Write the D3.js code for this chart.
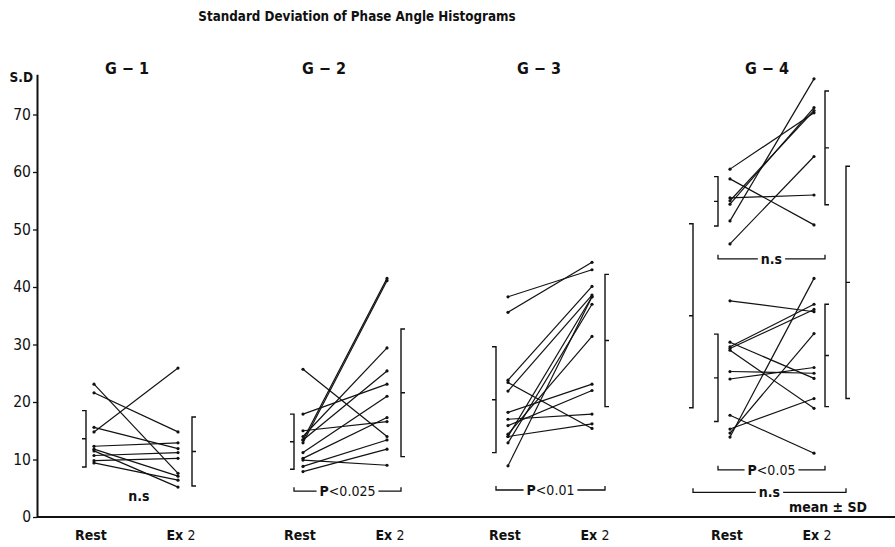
<!DOCTYPE html>
<html>
<head>
<meta charset="utf-8">
<script src="https://cdn.jsdelivr.net/npm/d3@7"></script>
<style>
  body { margin: 0; background: #fff; }
  text { font-family: "Liberation Sans Narrow", "DejaVu Sans Condensed", "Liberation Sans", sans-serif; fill: #111; }
</style>
</head>
<body>
<script>
// ---- data ----
const groupNames = ['G − 1', 'G − 2', 'G − 3', 'G − 4'];
const phases = ['Rest', 'Ex 2'];
const yTicks = [0, 10, 20, 30, 40, 50, 60, 70];

// individual subjects, rest value and exercise value (same index = same subject)
const g1Rest = [23.1, 21.6, 14.8, 15.6, 12.3, 11.8, 11.5, 10.7, 9.8, 9.4];
const g1Ex   = [7.6, 14.8, 25.9, 11.9, 12.9, 7.1, 5.2, 11.2, 10.2, 6.4];
const g2Rest = [25.7, 13.4, 12.9, 14.0, 17.9, 15.0, 11.2, 10.2, 9.9, 8.8, 7.9, 13.4];
const g2Ex   = [14.0, 41.5, 41.1, 29.4, 23.1, 16.6, 21.0, 17.3, 9.0, 13.4, 11.8, 25.4];
const g3Rest = [38.3, 35.6, 23.8, 21.9, 23.4, 18.2, 17.0, 15.9, 14.4, 14.0, 12.9, 8.9, 14.0];
const g3Ex   = [43.0, 44.3, 40.1, 38.6, 15.4, 23.1, 17.9, 22.0, 31.4, 38.3, 37.0, 38.3, 16.2];
const g4uRest = [60.5, 58.8, 55.5, 54.4, 55.0, 51.5, 47.5];
const g4uEx   = [70.3, 50.8, 56.0, 71.2, 70.7, 76.2, 62.7];
const g4lRest = [37.6, 30.4, 29.6, 29.3, 29.0, 25.3, 24.0, 17.7, 15.3, 14.6, 13.9];
const g4lEx   = [35.7, 24.1, 37.0, 36.1, 18.9, 25.0, 26.0, 11.1, 20.6, 31.9, 41.5];

const setGroup = [0, 1, 2, 3, 3];
const setRest = [g1Rest, g2Rest, g3Rest, g4uRest, g4lRest];
const setEx = [g1Ex, g2Ex, g3Ex, g4uEx, g4lEx];

// mean ± SD for each set
const restMean = [13.6, 13.1, 20.4, 54.9, 24.2];
const restSD   = [4.9, 4.8, 9.2, 4.3, 7.6];
const exMean   = [11.4, 21.6, 30.7, 64.2, 28.1];
const exSD     = [6.0, 11.1, 11.5, 9.9, 8.9];
// whole G-4
const g4AllMean = [35.0, 40.8];
const g4AllSD   = [16.0, 20.2];

// significance: set index (-1 = whole G-4), level in S.D units, label
const sigSet   = [0, 1, 2, 3, 4, -1];
const sigLevel = [3.6, 4.5, 4.7, 44.9, 8.2, 4.3];
const sigLabel = [['n.s', ''], ['P', '<0.025'], ['P', '<0.01'], ['n.s', ''], ['P', '<0.05'], ['n.s', '']];
const sigBracket = [false, true, true, true, true, true];

// ---- layout ----
const WIDTH = 895, HEIGHT = 547;
const AXIS_X = 37;
const restX = [94, 303, 508, 730];
const PAIR_W = 84;
const restBrOff = [-8, -9, -12, -12];
const exBrOff = [14, 14, 13, 11];
const titleX = [127, 324, 539, 767];

var svg = d3.select('body').append('svg')
    .attr('width', WIDTH)
    .attr('height', HEIGHT);

svg.append('rect').attr('width', WIDTH).attr('height', HEIGHT).attr('fill', '#fff');

var y = d3.scaleLinear().domain([0, 77]).range([517, 74.25]);

var xOf = function (gi) {
  return d3.scalePoint().domain(phases).range([restX[gi], restX[gi] + PAIR_W]);
};

// title
svg.append('text')
    .attr('x', 357).attr('y', 21)
    .attr('text-anchor', 'middle')
    .attr('font-size', 13.3).attr('font-weight', 'bold')
    .text('Standard Deviation of Phase Angle Histograms');

// y axis
var yAxis = d3.axisLeft(y).tickValues(yTicks).tickSize(4).tickSizeOuter(0).tickPadding(2);
var ax = svg.append('g')
    .attr('transform', 'translate(' + AXIS_X + ',0)')
    .call(yAxis);
ax.select('.domain').attr('stroke', '#111').attr('stroke-width', 2);
ax.selectAll('.tick line').attr('stroke', '#111').attr('stroke-width', 1.3);
ax.selectAll('.tick text')
    .attr('font-size', 15.5)
    .attr('font-family', '"Liberation Sans Narrow", "DejaVu Sans Condensed", sans-serif')
    .attr('fill', '#111');

svg.append('text')
    .attr('x', 33).attr('y', 82)
    .attr('text-anchor', 'end')
    .attr('font-size', 13.5).attr('font-weight', 'bold')
    .text('S.D');

// baseline
svg.append('line')
    .attr('x1', AXIS_X).attr('x2', WIDTH)
    .attr('y1', y(0)).attr('y2', y(0))
    .attr('stroke', '#111').attr('stroke-width', 2);

// group titles and phase labels
groupNames.forEach(function (name, gi) {
  svg.append('text')
      .attr('x', titleX[gi]).attr('y', 74)
      .attr('text-anchor', 'middle')
      .attr('font-size', 16).attr('font-weight', 'bold')
      .text(name);
  var x = xOf(gi);
  phases.forEach(function (p, pi) {
    var t = svg.append('text')
        .attr('x', x(p) + (pi === 0 ? -3 : 3)).attr('y', 540)
        .attr('text-anchor', 'middle')
        .attr('font-size', 14).attr('font-weight', 'bold');
    if (pi === 0) {
      t.text(p);
    } else {
      t.append('tspan').text('Ex ');
      t.append('tspan').attr('font-weight', 'normal').text('2');
    }
  });
});

// subject lines
var plot = svg.append('g');
setRest.forEach(function (rest, si) {
  var gi = setGroup[si];
  var x = xOf(gi);
  var pairs = rest.map(function (r, i) { return {rest: r, ex: setEx[si][i]}; });

  plot.selectAll('.pair' + si).data(pairs)
      .enter()
      .append('line')
      .attr('class', 'pair' + si)
      .attr('x1', x('Rest')).attr('x2', x('Ex 2'))
      .attr('y1', function (d) { return y(d.rest); })
      .attr('y2', function (d) { return y(d.ex); })
      .attr('stroke', '#111').attr('stroke-width', 1.2);

  var pts = [];
  pairs.forEach(function (d) {
    pts.push({x: x('Rest'), v: d.rest});
    pts.push({x: x('Ex 2'), v: d.ex});
  });
  plot.selectAll('.dot' + si).data(pts)
      .enter()
      .append('circle')
      .attr('class', 'dot' + si)
      .attr('cx', function (d) { return d.x; })
      .attr('cy', function (d) { return y(d.v); })
      .attr('r', 1.6)
      .attr('fill', '#111');
});

// mean ± SD brackets
var bracket = function (bx, mean, sd, dir) {
  var tick = 4;
  var p = d3.path();
  p.moveTo(bx + dir * tick, y(mean + sd));
  p.lineTo(bx, y(mean + sd));
  p.lineTo(bx, y(mean - sd));
  p.lineTo(bx + dir * tick, y(mean - sd));
  p.moveTo(bx, y(mean));
  p.lineTo(bx + dir * tick, y(mean));
  svg.append('path')
      .attr('d', p.toString())
      .attr('fill', 'none')
      .attr('stroke', '#111').attr('stroke-width', 1.4);
};

var brX = function (si) {
  var gi = setGroup[si];
  var x = xOf(gi);
  return [x('Rest') + restBrOff[gi], x('Ex 2') + exBrOff[gi]];
};

setRest.forEach(function (rest, si) {
  var bx = brX(si);
  bracket(bx[0], restMean[si], restSD[si], -1);
  bracket(bx[1], exMean[si], exSD[si], 1);
});

var x4 = xOf(3);
var allBx = [x4('Rest') - 37, x4('Ex 2') + 32];
bracket(allBx[0], g4AllMean[0], g4AllSD[0], -1);
bracket(allBx[1], g4AllMean[1], g4AllSD[1], 1);

// significance brackets
sigSet.forEach(function (si, k) {
  var bx = si < 0 ? allBx : brX(si);
  var yy = y(sigLevel[k]);
  var cx = (bx[0] + bx[1]) / 2;
  var g = svg.append('g');
  if (sigBracket[k]) {
    g.append('path')
        .attr('d', 'M' + bx[0] + ',' + (yy - 4) + 'V' + yy + 'H' + bx[1] + 'V' + (yy - 4))
        .attr('fill', 'none')
        .attr('stroke', '#111').attr('stroke-width', 1.3);
  }
  var t = g.append('text')
      .attr('x', cx).attr('y', yy + 5)
      .attr('text-anchor', 'middle')
      .attr('font-size', 14).attr('font-weight', 'bold');
  t.append('tspan').text(sigLabel[k][0]);
  if (sigLabel[k][1]) t.append('tspan').attr('font-weight', 'normal').text(sigLabel[k][1]);
  if (sigBracket[k]) {
    var bb = t.node().getBBox();
    g.insert('rect', 'text')
        .attr('x', bb.x - 3).attr('y', yy - 2)
        .attr('width', bb.width + 6).attr('height', 4)
        .attr('fill', '#fff');
  }
});

svg.append('text')
    .attr('x', 828).attr('y', 512)
    .attr('text-anchor', 'middle')
    .attr('font-size', 14).attr('font-weight', 'bold')
    .text('mean ± SD');
</script>
</body>
</html>
